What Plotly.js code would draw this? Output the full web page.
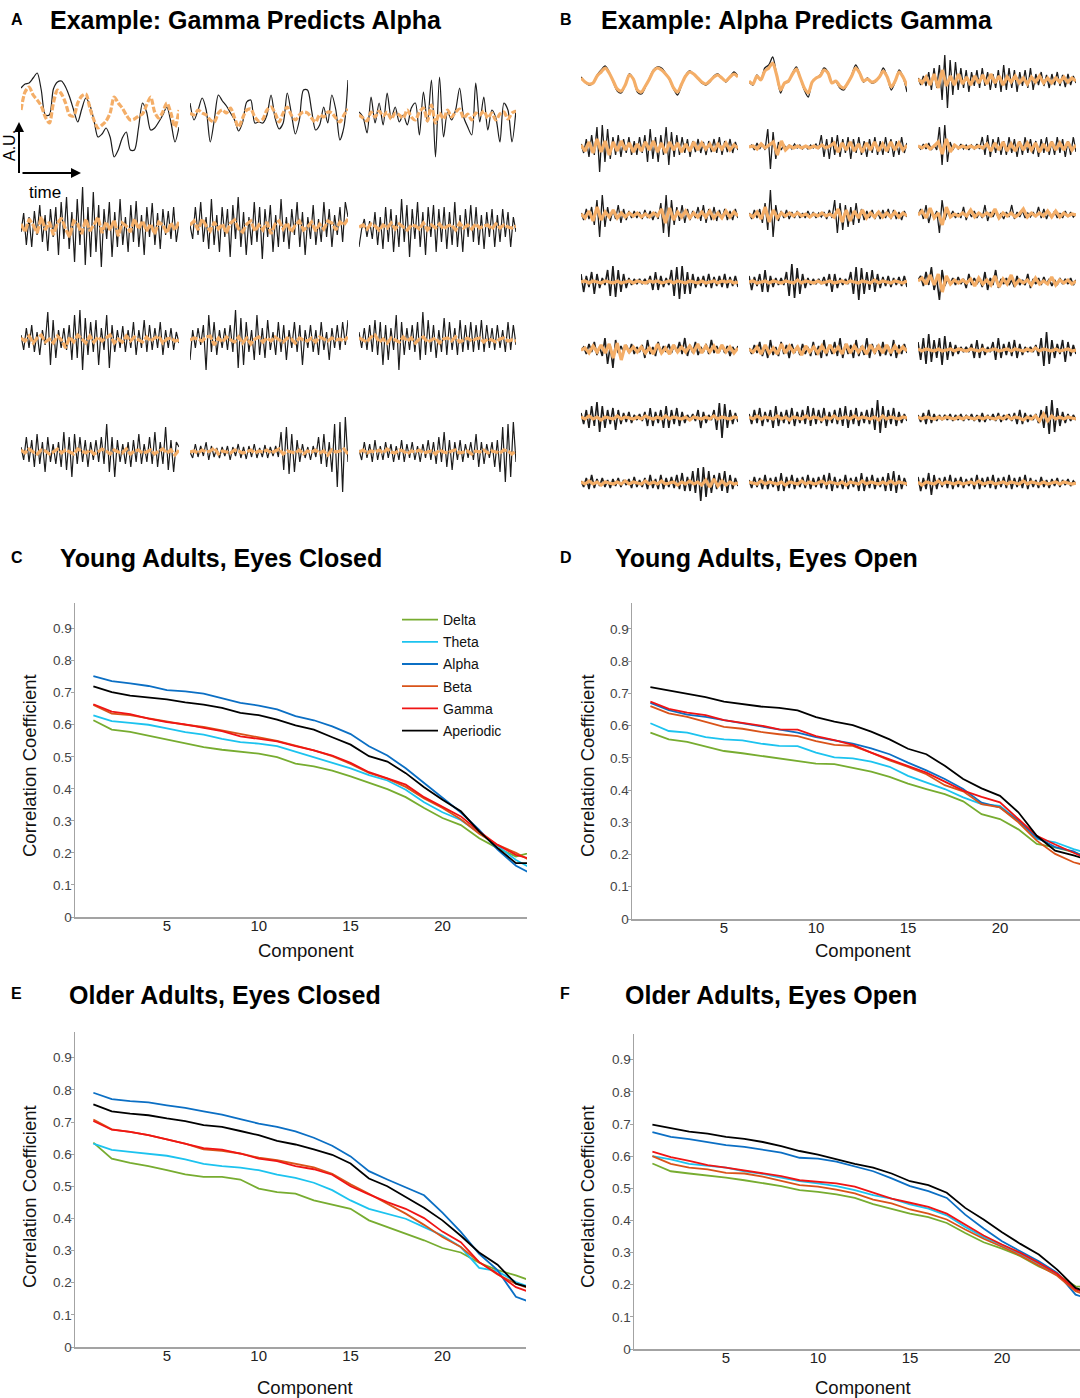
<!DOCTYPE html>
<html><head><meta charset="utf-8">
<script src="https://cdn.plot.ly/plotly-3.0.1.min.js"></script>
<style>html,body{margin:0;padding:0;background:#fff}#chart{width:1080px;height:1398px}</style>
</head><body><div id="chart"></div>
<script>
// ---------- DATA ----------
const components = [1,2,3,4,5,6,7,8,9,10,11,12,13,14,15,16,17,18,19,20,21,22,23,24,25];
const bands = ['Delta','Theta','Alpha','Beta','Gamma','Aperiodic'];
const yTickVals = [0,0.1,0.2,0.3,0.4,0.5,0.6,0.7,0.8,0.9];
const yTickText = ['0','0.1','0.2','0.3','0.4','0.5','0.6','0.7','0.8','0.9'];
const xTickVals = [5,10,15,20];
const xTickText = ['5','10','15','20'];

// C: Young Adults, Eyes Closed
const C_delta = [0.614,0.585,0.578,0.566,0.554,0.543,0.530,0.522,0.516,0.510,0.499,0.479,0.470,0.457,0.439,0.420,0.399,0.374,0.340,0.309,0.287,0.246,0.215,0.189,0.204];
const C_theta = [0.629,0.611,0.606,0.600,0.589,0.577,0.569,0.556,0.546,0.541,0.533,0.516,0.499,0.483,0.464,0.443,0.426,0.397,0.358,0.327,0.303,0.262,0.222,0.178,0.147];
const C_alpha = [0.752,0.736,0.729,0.721,0.708,0.704,0.697,0.683,0.668,0.660,0.648,0.627,0.614,0.595,0.571,0.533,0.504,0.464,0.418,0.371,0.326,0.272,0.210,0.160,0.130];
const C_beta  = [0.662,0.635,0.630,0.620,0.608,0.600,0.593,0.582,0.570,0.560,0.550,0.535,0.520,0.502,0.478,0.450,0.432,0.406,0.370,0.340,0.305,0.260,0.225,0.200,0.170];
const C_gamma = [0.664,0.641,0.633,0.619,0.608,0.601,0.590,0.580,0.564,0.557,0.548,0.533,0.520,0.504,0.481,0.452,0.433,0.413,0.374,0.345,0.314,0.267,0.225,0.194,0.178];
const C_aper  = [0.720,0.702,0.691,0.686,0.679,0.670,0.663,0.653,0.637,0.630,0.616,0.598,0.585,0.561,0.538,0.502,0.485,0.449,0.405,0.366,0.330,0.267,0.215,0.168,0.168];
// D: Young Adults, Eyes Open
const D_delta = [0.578,0.557,0.549,0.534,0.521,0.514,0.506,0.498,0.488,0.482,0.480,0.468,0.457,0.441,0.420,0.403,0.387,0.365,0.325,0.310,0.278,0.233,0.222,0.207,0.190];
const D_theta = [0.607,0.583,0.578,0.564,0.557,0.554,0.544,0.537,0.536,0.516,0.501,0.498,0.488,0.472,0.444,0.423,0.403,0.377,0.356,0.351,0.305,0.248,0.238,0.217,0.200];
const D_alpha = [0.670,0.648,0.634,0.627,0.617,0.607,0.598,0.587,0.578,0.564,0.554,0.544,0.529,0.511,0.485,0.461,0.434,0.403,0.361,0.346,0.305,0.253,0.223,0.210,0.180];
const D_beta  = [0.660,0.638,0.627,0.611,0.596,0.590,0.580,0.573,0.567,0.552,0.540,0.537,0.516,0.492,0.472,0.449,0.415,0.396,0.356,0.346,0.300,0.243,0.202,0.176,0.160];
const D_gamma = [0.674,0.652,0.640,0.632,0.617,0.608,0.600,0.588,0.587,0.567,0.555,0.540,0.516,0.495,0.475,0.454,0.426,0.398,0.379,0.362,0.310,0.258,0.231,0.207,0.180];
const D_aper  = [0.719,0.709,0.698,0.688,0.674,0.667,0.659,0.655,0.647,0.626,0.612,0.601,0.581,0.557,0.528,0.511,0.475,0.434,0.405,0.382,0.331,0.258,0.212,0.197,0.180];
// E: Older Adults, Eyes Closed
const E_delta = [0.636,0.586,0.573,0.563,0.550,0.537,0.529,0.529,0.521,0.493,0.482,0.477,0.456,0.443,0.430,0.394,0.373,0.353,0.332,0.308,0.294,0.262,0.239,0.223,0.202];
const E_theta = [0.633,0.613,0.607,0.602,0.595,0.584,0.570,0.563,0.558,0.550,0.536,0.526,0.511,0.488,0.456,0.430,0.415,0.399,0.373,0.347,0.311,0.246,0.236,0.202,0.181];
const E_alpha = [0.791,0.771,0.765,0.761,0.752,0.744,0.733,0.723,0.709,0.695,0.685,0.671,0.651,0.626,0.593,0.547,0.521,0.496,0.472,0.418,0.358,0.290,0.239,0.156,0.135];
const E_beta  = [0.708,0.677,0.669,0.659,0.646,0.633,0.615,0.610,0.602,0.589,0.581,0.570,0.559,0.539,0.506,0.477,0.446,0.415,0.380,0.342,0.311,0.264,0.226,0.197,0.176];
const E_gamma = [0.703,0.676,0.669,0.659,0.646,0.633,0.619,0.614,0.602,0.586,0.578,0.563,0.553,0.536,0.500,0.475,0.451,0.430,0.401,0.359,0.326,0.264,0.228,0.186,0.166];
const E_aper  = [0.755,0.733,0.726,0.721,0.711,0.703,0.690,0.685,0.672,0.659,0.641,0.630,0.615,0.598,0.571,0.524,0.500,0.467,0.433,0.394,0.346,0.294,0.256,0.197,0.181];
// F: Older Adults, Eyes Open
const F_delta = [0.577,0.553,0.546,0.540,0.533,0.525,0.517,0.507,0.494,0.489,0.481,0.470,0.451,0.436,0.421,0.410,0.392,0.361,0.332,0.312,0.289,0.257,0.232,0.195,0.190];
const F_theta = [0.600,0.590,0.576,0.569,0.564,0.553,0.545,0.533,0.522,0.515,0.507,0.494,0.479,0.468,0.450,0.437,0.416,0.380,0.348,0.323,0.296,0.265,0.232,0.185,0.170];
const F_alpha = [0.675,0.660,0.653,0.644,0.634,0.629,0.621,0.611,0.595,0.592,0.583,0.569,0.553,0.531,0.507,0.491,0.470,0.418,0.375,0.335,0.304,0.273,0.237,0.169,0.150];
const F_beta  = [0.600,0.576,0.564,0.559,0.548,0.546,0.536,0.522,0.510,0.505,0.496,0.484,0.465,0.453,0.434,0.421,0.403,0.372,0.343,0.318,0.291,0.260,0.228,0.180,0.160];
const F_gamma = [0.614,0.597,0.585,0.572,0.564,0.556,0.548,0.538,0.525,0.520,0.515,0.505,0.486,0.468,0.455,0.442,0.421,0.386,0.353,0.325,0.299,0.268,0.234,0.185,0.170];
const F_aper  = [0.698,0.686,0.676,0.670,0.660,0.654,0.644,0.631,0.616,0.605,0.590,0.576,0.564,0.546,0.522,0.510,0.486,0.439,0.403,0.363,0.327,0.294,0.247,0.190,0.170];

// A: Gamma predicts Alpha (black = measured, orange = predicted), A.U.
const A11_k = [27,31,32,37,42,25,0,0,26,33,34,28,18,5,-7,6,17,10,-5,-22,-19,-13,-22,-42,-35,-23,-17,-35,-35,-13,12,3,-15,-13,-7,0,8,-7,-27,-12];
const A11_o = [5,23,28,20,15,9,-2,-8,12,25,21,12,0,-1,12,19,21,7,-5,-13,-10,-6,2,18,12,7,0,-5,-4,-1,1,10,18,3,-3,3,12,2,-12,5];
const A12_k = [12,-5,5,17,5,-27,-5,20,14,9,2,-5,-16,-7,13,15,-8,-7,-8,0,20,-3,-14,-8,22,2,-19,-5,25,25,5,-15,-10,8,-8,20,5,-25,-12,35];
const A12_o = [2,0,5,2,0,-5,-7,2,5,2,7,-3,-12,-3,5,6,-2,-6,-4,5,8,2,-7,2,8,0,-5,0,3,2,-3,-7,0,-2,3,2,-3,-7,0,6];
const A13_k = [3,-2,-18,18,-8,12,-10,22,-3,8,-7,0,-10,7,12,-20,23,-7,35,-42,38,-22,3,-5,5,27,-2,-12,-20,32,-7,18,-15,5,-3,-27,12,5,-27,5];
const A13_o = [0,-3,-6,3,-2,4,-1,3,-4,2,0,-3,5,-2,-5,3,7,-6,10,-8,2,-4,5,-2,3,6,-3,1,-5,2,0,4,-3,2,-5,1,3,-4,2,4];
const A21_k = [-5,14,-18,10,-20,16,-8,22,-15,12,-24,18,-10,20,-28,25,-12,30,-22,15,-35,28,-18,40,-38,20,-30,35,-25,22,-40,18,-12,25,-30,15,-20,28,-18,10,-25,22,-15,26,-20,12,-28,20,-10,24,-18,14,-22,18,-8,16,-12,20,-15,5];
const A21_o = [3,-5,8,2,-6,10,-3,5,-8,4,9,-2,-10,6,3,-7,8,-4,2,10,-6,5,-3,7,-9,4,1,-5,8,-2,6,-4,3,-7,5,2,-6,4,-3,5];
const A22_k = [2,-12,20,-8,25,-15,10,-22,28,-18,12,-25,20,-10,18,-30,22,-12,30,-20,15,-28,10,-18,25,-15,20,-32,18,-10,22,-25,12,-20,28,-15,10,-22,18,-8,25,-20,15,-28,10,-12,22,-18,8,-15,25,-10,18,-20,12,-8,20,-15,25,10];
const A22_o = [2,6,-3,8,1,-4,5,-2,3,-6,4,7,-2,-5,3,6,-4,2,-3,5,-7,3,6,-2,4,-5,2,6,-3,0,5,-4,3,-2,6,4,-3,5,2,8];
const A23_k = [-20,-2,8,-10,6,-12,15,-18,10,-22,20,-15,18,-25,12,-20,28,-15,22,-30,18,-12,25,-20,15,-28,20,-10,22,-25,18,-15,20,-22,15,-18,25,-20,12,-25,18,-10,22,-15,20,-18,12,-22,15,-10,18,-20,12,-15,18,-10,15,-20,10,-5];
const A23_o = [0,2,-2,3,1,-3,2,-1,4,-2,3,0,-3,2,1,-2,4,-3,2,-1,3,-2,1,2,-3,4,-1,2,-2,3,-1,1,2,-2,3,-1,2,0,-1,1];
const A31_k = [5,-10,12,-8,15,-12,8,-15,10,-5,28,-25,20,-18,10,-8,12,-10,15,-20,25,-18,30,-30,22,-15,18,-12,20,-25,12,-10,25,-28,15,-12,10,-8,14,-12,10,-8,18,-15,10,-8,20,-12,15,-10,12,-8,18,-15,10,-8,12,-10,8,-3];
const A31_o = [2,-1,4,-3,2,5,-2,1,-3,4,0,-8,3,-2,5,1,-3,4,-2,3,-1,2,5,-3,1,-2,4,-1,3,0,-2,3,-1,2,4,-3,1,2,-1,0];
const A32_k = [-20,10,-8,12,-5,15,-30,25,-12,18,-15,10,-8,12,-10,15,-12,30,-28,22,-25,18,-12,10,-20,25,-15,12,-18,20,-10,8,-15,18,-12,15,-20,10,-8,18,-12,15,-25,10,-8,15,-12,10,-15,18,-10,8,-20,12,-8,15,-10,18,-5,20];
const A32_o = [0,2,1,-1,3,4,-5,2,-2,3,0,-2,3,-3,2,-4,1,3,-2,2,-1,3,0,-2,2,1,-3,2,0,-1,2,-2,3,1,-1,2,0,1,-1,3];
const A33_k = [8,-8,12,-10,15,-12,20,-15,18,-25,15,-20,12,-10,25,-30,18,-15,12,-10,15,-12,18,-20,28,-15,20,-12,15,-18,10,-12,22,-15,18,-10,12,-15,20,-12,15,-10,18,-12,15,-10,20,-12,15,-8,12,-10,15,-8,10,-12,18,-10,15,-5];
const A33_o = [2,0,-2,3,5,-2,1,-3,2,0,-2,3,-1,2,-3,1,3,-2,0,2,-3,1,2,-1,3,-2,0,2,-1,1,2,-2,1,0,-2,1,2,-1,0,-1];
const A41_k = [5,-8,15,-10,12,-15,18,-12,10,-20,15,-10,8,-12,10,-15,20,-18,15,-25,18,-12,15,-10,12,-15,10,-8,12,-10,15,-12,28,-20,15,-25,12,-10,8,-12,10,-15,12,-10,18,-12,8,-10,15,-12,20,-15,10,-12,25,-18,12,-20,10,5];
const A41_o = [2,-1,3,0,-2,2,1,-2,0,3,-1,2,0,-2,3,1,-1,2,-2,0,3,1,-2,2,0,-1,3,-2,1,2,-1,0,2,-2,1,3,-1,2,-3,2];
const A42_k = [0,-6,8,-5,6,-4,10,-8,6,-5,4,-6,5,-4,6,-8,5,-4,8,-6,5,-7,6,-5,8,-6,4,-5,7,-6,5,-4,6,-5,20,-18,25,-22,18,-20,12,-10,8,-6,5,-8,6,-5,15,-12,18,-15,10,-20,28,-35,30,-40,35,-10];
const A42_o = [0,1,-1,2,0,1,4,-2,1,0,-1,2,1,-1,0,2,-1,1,0,2,-1,1,3,-2,1,0,-1,2,-2,1,0,2,-1,1,-3,2,0,1,3,-2];
const A43_k = [2,-8,10,-6,8,-10,12,-8,6,-8,10,-6,8,-10,6,-8,12,-10,8,-6,10,-8,6,-10,8,-6,12,-8,10,-12,15,-10,20,-15,12,-18,10,-8,12,-10,8,-6,10,-8,18,-15,10,-12,8,-6,10,-15,12,-20,25,-30,28,-25,30,-10];
const A43_o = [0,2,-1,1,0,2,-1,3,0,-1,2,1,-2,1,0,2,-1,0,1,-2,2,0,-1,1,2,-1,0,1,-2,1,0,2,-1,1,0,-1,2,1,-2,1];

// B: Alpha predicts Gamma
const B11_k = [3,-2,-5,-3,5,10,14,8,-2,-11,-13,-5,6,1,-12,-14,-7,2,10,13,12,7,0,-9,-15,-5,5,9,6,2,-3,-5,-2,4,6,2,-2,3,8,4];
const B11_o = [2,-2,-4,-3,4,8,12,7,-1,-9,-11,-5,5,1,-10,-12,-6,1,9,12,10,6,1,-8,-12,-4,4,8,6,2,-2,-4,-1,3,5,2,-1,3,6,3];
const B12_k = [-2,-5,5,0,12,15,23,5,-13,-3,-2,7,13,2,-10,-17,-2,2,5,12,8,-3,-2,-8,-10,-3,5,15,8,-2,2,-3,-2,3,12,3,-10,-2,10,3,-12];
const B12_o = [-1,-4,4,0,9,12,17,5,-10,-3,-1,6,11,2,-8,-13,-2,2,4,10,7,-3,-1,-6,-8,-3,4,12,7,-1,1,-2,-1,3,9,3,-7,-1,8,3,-6];
const B13_k = [2,-5,4,-6,8,-10,12,-8,15,-20,25,-28,20,-15,18,-10,12,-8,10,-12,8,-6,10,-8,12,-6,8,-10,6,-8,10,-12,15,-10,12,-8,10,-12,8,-6,10,-8,12,-10,6,-5,8,-6,5,-8,6,-5,8,-6,5,-7,6,-5,4,-3];
const B13_o = [1,-3,3,-5,6,-8,10,-6,4,-5,6,-4,3,-5,4,-3,5,-4,6,-3,4,-5,3,-2,4,-3,2,-4,3,-2,4,-3,2,-3,2,-2,3,-2,2,-1];
const B21_k = [3,-6,8,-10,12,-8,20,-25,22,-15,18,-12,10,-8,12,-10,8,-6,10,-8,6,-8,10,-6,12,-15,18,-12,10,-15,12,-8,20,-18,15,-10,12,-8,10,-6,8,-10,6,-5,8,-6,5,-8,6,-5,8,-6,10,-8,6,-5,8,-6,5,-3];
const B21_o = [2,-4,5,-6,8,-5,6,-8,5,-4,6,-3,4,-5,3,-4,5,-3,6,-5,4,-6,5,-3,4,-5,3,-4,5,-3,4,-2,3,-4,3,-2,4,-3,2,-1];
const B22_k = [0,2,-3,4,-2,3,-3,18,-22,15,-12,5,-3,2,-1,2,-2,3,-1,2,-2,1,-2,2,-1,3,-2,12,-10,8,-12,10,-8,12,-10,8,-6,10,-12,8,-6,10,-8,6,-10,8,-6,10,-8,6,-8,10,-6,8,-10,6,-8,10,-6,4];
const B22_o = [0,1,-2,3,-1,2,5,-8,6,-3,1,-1,1,-1,1,-1,1,-1,2,-1,1,4,-5,4,-3,5,-4,3,-5,4,-3,5,-4,3,-4,5,-3,4,-3,2];
const B23_k = [1,-2,3,-2,4,-3,2,-3,20,-18,22,-15,5,-3,2,-2,3,-2,2,-3,2,-2,3,-2,10,-8,12,-10,8,-6,10,-8,6,-8,10,-6,8,-10,6,-8,10,-6,8,-7,6,-10,8,-6,10,-8,6,-8,10,-6,8,-10,6,-8,10,-5];
const B23_o = [1,-1,2,-2,1,5,-7,8,-5,2,-1,1,-1,1,-1,1,-1,3,-4,4,-3,5,-4,3,-4,5,-3,4,-3,4,-5,3,-4,5,-3,4,-3,5,-3,2];
const B31_k = [2,-5,6,-4,8,-10,15,-22,20,-12,8,-6,5,-4,10,-8,6,-5,4,-3,4,-3,3,-4,5,-3,4,-5,3,-4,12,-18,20,-22,15,-10,8,-6,10,-8,6,-5,4,-3,8,-6,10,-8,6,-5,8,-6,5,-4,6,-5,4,-5,6,-3];
const B31_o = [1,-3,4,-6,8,-5,3,-2,5,-3,2,-2,2,-1,2,-2,1,-2,2,-1,6,-8,7,-5,3,-2,4,-3,2,-2,3,-2,4,-3,2,-3,4,-2,3,-1];
const B32_k = [2,-4,5,-3,6,-8,12,-15,25,-22,10,-6,4,-3,5,-4,3,-3,4,-3,2,-3,4,-2,3,-3,2,-2,3,-4,5,-3,15,-18,12,-15,10,-12,8,-10,12,-8,6,-5,4,-3,5,-4,3,-4,5,-3,6,-4,5,-4,3,-5,4,-2];
const B32_o = [1,-2,3,-4,8,-7,5,-3,2,-1,2,-1,2,-1,1,-2,1,-1,2,-1,1,-2,6,-7,5,-6,4,-3,5,-3,2,-2,3,-2,2,-2,3,-2,2,-1];
const B33_k = [0,6,-4,10,-8,3,-2,4,-18,15,-5,3,-2,4,-3,2,-3,8,-5,3,-2,4,-3,2,-3,10,-6,3,-2,4,-3,2,-4,3,-2,10,-4,3,-2,4,-3,2,-2,3,-2,8,-3,6,-4,3,-2,4,-3,2,-3,4,-2,3,-2,1];
const B33_o = [0,4,-3,7,-3,2,-10,8,-2,1,-1,2,-1,5,-2,2,-1,2,-1,6,-3,2,-1,2,-2,1,6,-2,2,-1,2,-1,4,-2,4,-2,2,-1,1,0];
const B41_k = [8,-10,6,-5,10,-12,8,-6,4,-3,12,-14,16,-15,12,-10,8,-6,4,-3,3,-2,3,-2,3,-2,6,-8,10,-8,6,-5,4,-3,12,-14,15,-17,16,-12,10,-12,8,-6,5,-4,6,-5,8,-6,5,-4,6,-5,8,-6,5,-4,6,-5];
const B41_o = [0,1,-1,1,0,-1,1,0,-1,1,-1,0,1,-1,1,0,-1,1,0,1,-1,0,1,-1,1,0,-1,1,0,-1,1,-1,0,1,-1,1,0,1,-1,0];
const B42_k = [6,-8,5,-4,8,-10,12,-10,6,-5,4,-3,4,-3,10,-14,18,-16,14,-12,8,-6,4,-3,3,-2,3,-2,5,-4,8,-10,8,-6,4,-3,3,-2,10,-12,15,-18,14,-12,10,-8,12,-10,8,-6,5,-4,6,-5,4,-3,5,-4,6,-5];
const B42_o = [0,1,-1,0,1,-1,1,0,-1,1,0,-1,2,-1,1,0,-1,1,-1,0,1,-1,0,1,-1,1,0,-1,1,0,-1,2,-1,1,0,-1,1,0,-1,1];
const B43_k = [2,6,-4,10,-3,15,-8,3,-18,12,-4,3,-2,4,-3,5,-2,3,-6,8,-3,4,-2,3,-5,10,-8,4,-3,12,-6,3,-2,4,-3,2,-5,6,-3,2,-3,8,-6,3,-2,4,-3,5,-2,3,-4,2,-3,4,-2,3,-2,4,-3,2];
const B43_o = [1,4,-2,7,-3,8,-10,6,-2,2,-1,2,-1,3,-4,4,-2,2,-3,6,-5,3,-2,7,-3,2,-1,2,-3,4,-2,1,-2,5,-3,2,-1,2,-2,1];
const B51_k = [0,3,-4,6,-2,8,-5,3,-6,12,-14,4,-18,10,-3,4,-2,5,-3,6,-4,3,-2,5,-8,10,-4,3,-6,8,-3,4,-2,6,-3,5,-2,8,-4,12,-6,5,-3,8,-5,3,-2,6,-4,10,-3,4,-2,5,-3,4,-6,3,-2,4];
const B51_o = [0,2,-3,4,-2,5,-3,6,-8,7,-10,5,-2,3,-2,3,-3,2,-4,6,-3,2,-4,5,-2,3,-2,4,-2,6,-3,4,-2,4,-3,5,-2,3,-3,2];
const B52_k = [2,-4,5,-3,8,-6,4,-8,10,-5,3,-6,8,-4,5,-8,6,-3,4,-5,6,-4,3,-6,8,-5,4,-8,10,-6,5,-4,8,-6,12,-8,6,-4,5,-8,10,-6,4,-5,12,-8,6,-4,5,-6,8,-5,4,-6,10,-8,5,-4,6,-3];
const B52_o = [1,-2,3,-4,5,-3,2,-4,6,-3,4,-2,3,-5,4,-2,3,-3,4,-3,5,-2,3,-4,6,-3,4,-2,3,-4,5,-2,4,-3,5,-3,4,-2,3,-1];
const B53_k = [8,-10,12,-14,16,-12,10,-8,12,-15,14,-10,8,-6,5,-4,3,-2,3,-2,6,-8,10,-8,6,-5,3,-2,8,-10,12,-8,6,-5,8,-6,10,-8,6,-5,3,-2,3,-2,5,-6,12,-16,18,-14,10,-8,6,-4,10,-12,8,-6,5,-4];
const B53_o = [1,-1,1,0,-1,1,-1,0,1,-1,1,0,-1,1,0,-1,1,-1,0,1,-1,0,1,-1,1,0,-1,1,-1,2,-1,1,0,-1,1,-1,0,1,-1,0];
const B61_k = [5,-6,8,-10,12,-8,16,-14,12,-10,8,-6,10,-12,8,-6,5,-4,6,-5,3,-2,4,-3,6,-8,10,-8,6,-5,8,-10,12,-10,8,-6,10,-8,6,-5,3,-2,4,-3,8,-10,6,-5,3,-2,8,-12,15,-20,14,-10,8,-6,5,-4];
const B61_o = [1,-1,2,-1,1,-2,1,0,-1,2,-1,1,0,-1,1,-1,2,0,-1,1,-1,2,-1,1,0,-1,1,-2,1,0,-1,1,-1,2,-1,1,0,-1,1,0];
const B62_k = [4,-6,8,-5,10,-8,6,-4,8,-10,12,-8,6,-5,8,-6,10,-8,6,-5,8,-6,12,-8,10,-6,8,-5,10,-8,6,-5,8,-6,10,-8,12,-10,8,-6,10,-8,6,-5,8,-6,10,-12,18,-15,12,-10,8,-6,10,-8,6,-5,4,-3];
const B62_o = [1,-1,2,-1,1,0,-1,2,-1,1,-2,1,0,-1,2,-1,1,0,-2,1,-1,2,-1,0,1,-1,2,-1,1,0,-1,1,-2,2,-1,1,0,-1,1,0];
const B63_k = [3,-4,5,-6,8,-5,4,-3,3,-2,3,-2,4,-3,3,-2,4,-3,3,-2,4,-3,3,-4,5,-4,3,-2,4,-3,5,-4,3,-2,4,-3,5,-6,8,-6,5,-4,3,-2,4,-5,8,-10,12,-16,18,-14,10,-8,6,-5,4,-3,3,-2];
const B63_o = [1,-1,1,0,-1,1,-1,1,0,-1,1,-1,1,0,-1,1,-1,1,0,-1,1,-1,2,-1,1,0,-2,1,-1,2,-3,4,-3,2,-1,1,-1,1,0,-1];
const B71_k = [2,-4,5,-6,8,-5,4,-3,5,-4,3,-5,4,-3,5,-4,3,-2,4,-5,6,-4,3,-4,5,-6,8,-5,4,-6,8,-6,5,-4,6,-5,8,-6,10,-8,6,-8,12,-10,15,-18,16,-14,12,-10,8,-6,10,-8,12,-10,8,-6,5,-3];
const B71_o = [1,-1,2,-1,1,-2,1,0,-1,1,-1,2,-1,1,0,-1,2,-1,1,-1,2,-1,0,1,-2,1,-1,2,-1,1,-2,3,-4,4,-3,2,-2,1,-1,0];
const B72_k = [3,-5,6,-4,5,-6,8,-6,5,-4,6,-8,10,-8,6,-5,8,-6,5,-4,6,-5,8,-6,5,-4,6,-5,8,-6,10,-8,6,-5,4,-6,8,-6,5,-4,6,-8,10,-8,6,-5,8,-6,5,-4,6,-8,10,-8,12,-10,8,-6,5,-3];
const B72_o = [1,0,-1,2,-1,1,0,-1,1,-2,1,0,-1,2,-1,1,-1,0,2,-1,1,0,-1,1,-2,1,0,-1,2,-1,1,0,-1,1,-1,2,-1,1,0,-1];
const B73_k = [6,-8,5,-6,10,-12,8,-6,5,-4,6,-5,8,-6,5,-4,6,-5,4,-3,5,-6,8,-6,5,-4,6,-5,8,-6,5,-4,6,-5,8,-6,5,-4,6,-5,8,-6,5,-4,3,-5,6,-4,3,-5,4,-3,5,-4,3,-2,4,-3,2,-1];
const B73_o = [1,-2,1,0,-1,2,-1,1,0,-1,1,-1,0,1,-1,2,-1,0,1,-1,0,1,-1,1,0,-1,2,-1,1,0,-1,1,-1,0,1,-1,1,0,-1,0];

// ---------- BUILD ----------
const W = 1080, H = 1398;
const bandColors = ['#77AC30','#1CC3EF','#0B6FC4','#D95319','#F01414','#000000'];
const ORANGE = '#F4AE68', BLACK = '#1c1c1c';
const FONT = 'Liberation Sans, Arial, sans-serif';
const traces = [];
const layout = {
  width: W, height: H, margin: {l:0, r:0, t:0, b:0},
  paper_bgcolor: '#fff', plot_bgcolor: 'rgba(0,0,0,0)',
  showlegend: true, annotations: [], shapes: [],
  font: {family: FONT, color: '#222'}
};
let axN = 0;
function px2x(p){ return p / W; }
function py2y(p){ return 1 - p / H; }
function newAxes(x0, x1, yTop, yBot, xOpts, yOpts){
  axN++;
  const s = axN === 1 ? '' : String(axN);
  layout['xaxis' + s] = Object.assign({domain: [px2x(x0), px2x(x1)], anchor: 'y' + s}, xOpts);
  layout['yaxis' + s] = Object.assign({domain: [py2y(yBot), py2y(yTop)], anchor: 'x' + s}, yOpts);
  return {xa: 'x' + s, ya: 'y' + s};
}
function idx(arr){ return arr.map((_, i) => i / (arr.length - 1)); }
function hidden(r){ return {range: r, visible: false, fixedrange: true}; }

function mini(x0, x1, cy, half, k, o, shape, dash, kw){
  const ax = newAxes(x0, x1, cy - half, cy + half, hidden([0, 1]), hidden([-half, half]));
  traces.push({x: idx(k), y: k, xaxis: ax.xa, yaxis: ax.ya, mode: 'lines', showlegend: false, hoverinfo: 'skip',
    line: {color: BLACK, width: kw, shape: shape, smoothing: 0.8}});
  traces.push({x: idx(o), y: o, xaxis: ax.xa, yaxis: ax.ya, mode: 'lines', showlegend: false, hoverinfo: 'skip',
    line: {color: ORANGE, width: 3.2, shape: shape, smoothing: 0.8, dash: dash}});
}

// Panel A
const A_cols = [[21,179],[190,348],[359,516]];
const A_rows = [115, 227, 340, 452];
const A_data = [[A11_k,A11_o],[A12_k,A12_o],[A13_k,A13_o],[A21_k,A21_o],[A22_k,A22_o],[A23_k,A23_o],
                [A31_k,A31_o],[A32_k,A32_o],[A33_k,A33_o],[A41_k,A41_o],[A42_k,A42_o],[A43_k,A43_o]];
A_data.forEach((d, i) => {
  const r = Math.floor(i / 3), c = i % 3;
  mini(A_cols[c][0], A_cols[c][1], A_rows[r], 50, d[0], d[1], r === 0 ? 'spline' : 'linear', r === 0 ? '6px,2px' : '8px,1.5px', 1.2);
});
// Panel B
const B_cols = [[581,738],[749,907],[918,1076]];
const B_rows = [80, 147, 215, 282, 350, 418, 483];
const B_data = [[B11_k,B11_o],[B12_k,B12_o],[B13_k,B13_o],[B21_k,B21_o],[B22_k,B22_o],[B23_k,B23_o],
                [B31_k,B31_o],[B32_k,B32_o],[B33_k,B33_o],[B41_k,B41_o],[B42_k,B42_o],[B43_k,B43_o],
                [B51_k,B51_o],[B52_k,B52_o],[B53_k,B53_o],[B61_k,B61_o],[B62_k,B62_o],[B63_k,B63_o],
                [B71_k,B71_o],[B72_k,B72_o],[B73_k,B73_o]];
B_data.forEach((d, i) => {
  const r = Math.floor(i / 3), c = i % 3;
  mini(B_cols[c][0], B_cols[c][1], B_rows[r], 30, d[0], d[1], r === 0 && c < 2 ? 'spline' : 'linear', 'solid', r >= 3 ? 1.6 : 1.3);
});

// Line panels
const AXC = '#a3a3a3';
function lineAxes(x0, x1, yTop, yBot, xmax){
  return newAxes(x0, x1, yTop, yBot,
    {range: [0, xmax], showline: true, linecolor: AXC, linewidth: 1.5, showgrid: false, zeroline: false,
     tickvals: xTickVals, ticktext: xTickText, ticks: '', ticklabelstandoff: -6,
     tickfont: {size: 15, color: '#222', family: FONT}, fixedrange: true},
    {range: [0, 0.98], showline: true, linecolor: AXC, linewidth: 1.5, showgrid: false, zeroline: false,
     tickvals: yTickVals, ticktext: yTickText, ticks: 'outside', ticklen: 3, tickcolor: AXC, tickwidth: 1,
     ticklabelstandoff: -4, tickfont: {size: 13.5, color: '#444', family: FONT}, fixedrange: true});
}
const linePanels = [
  {pos: [75, 527, 603, 917], xmax: 24.6, series: [C_delta,C_theta,C_alpha,C_beta,C_gamma,C_aper], legend: true},
  {pos: [632, 1080, 603, 919], xmax: 24.35, series: [D_delta,D_theta,D_alpha,D_beta,D_gamma,D_aper]},
  {pos: [75, 526, 1032, 1347], xmax: 24.55, series: [E_delta,E_theta,E_alpha,E_beta,E_gamma,E_aper]},
  {pos: [634, 1080, 1034, 1349], xmax: 24.24, series: [F_delta,F_theta,F_alpha,F_beta,F_gamma,F_aper]}
];
linePanels.forEach(p => {
  const ax = lineAxes(p.pos[0], p.pos[1], p.pos[2], p.pos[3], p.xmax);
  p.series.forEach((s, j) => {
    traces.push({x: components, y: s, xaxis: ax.xa, yaxis: ax.ya, mode: 'lines', name: bands[j],
      legendgroup: bands[j] + (p.legend ? '' : ax.xa), showlegend: !!p.legend,
      line: {color: bandColors[j], width: 1.8}});
  });
});
layout.legend = {x: px2x(397), y: py2y(604), xanchor: 'left', yanchor: 'top', bgcolor: 'rgba(0,0,0,0)',
  font: {size: 14, color: '#111', family: FONT}, tracegroupgap: 1, itemwidth: 36, itemclick: false, itemdoubleclick: false};

// Text annotations
function ann(text, x, y, opts){
  layout.annotations.push(Object.assign({text: text, x: px2x(x), y: py2y(y), xref: 'paper', yref: 'paper',
    showarrow: false, xanchor: 'left', yanchor: 'middle', font: {family: FONT, size: 25, color: '#000'}}, opts || {}));
}
const letters = [['A',17,20],['B',566,20],['C',17,557],['D',566,557],['E',16,993],['F',565,993]];
letters.forEach(l => ann('<b>' + l[0] + '</b>', l[1], l[2], {xanchor: 'center', font: {family: FONT, size: 16, color: '#000'}}));
const titles = [['Example: Gamma Predicts Alpha',48,20],['Example: Alpha Predicts Gamma',599,20],
  ['Young Adults, Eyes Closed',58,558],['Young Adults, Eyes Open',613,558],
  ['Older Adults, Eyes Closed',67,995],['Older Adults, Eyes Open',623,995]];
titles.forEach(t => ann('<b>' + t[0] + '</b>', t[1], t[2]));
const xTitlePos = [[306,950],[863,950],[305,1387],[863,1387]];
xTitlePos.forEach(p => ann('Component', p[0], p[1], {xanchor: 'center', font: {family: FONT, size: 18.5, color: '#111'}}));
const yTitlePos = [[29,766],[587,766],[29,1197],[587,1197]];
yTitlePos.forEach(p => ann('Correlation Coefficient', p[0], p[1], {xanchor: 'center', textangle: -90, font: {family: FONT, size: 18.5, color: '#111'}}));
// A.U. / time scale arrows
ann('', 19, 122, {showarrow: true, ax: 0, ay: 51, arrowhead: 2, arrowsize: 1, arrowwidth: 2, arrowcolor: '#000'});
ann('', 81, 173, {showarrow: true, ax: -62, ay: 0, arrowhead: 2, arrowsize: 1, arrowwidth: 2, arrowcolor: '#000'});
ann('A.U.', 9, 146, {xanchor: 'center', textangle: -90, font: {family: FONT, size: 16, color: '#000'}});
ann('time', 45, 192, {xanchor: 'center', font: {family: FONT, size: 17, color: '#000'}});

Plotly.newPlot('chart', traces, layout, {staticPlot: true, displayModeBar: false});
</script></body></html>
